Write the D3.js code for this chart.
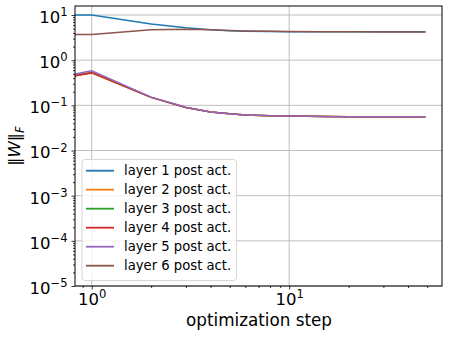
<html>
<head>
<script src="https://d3js.org/d3.v7.min.js"></script>
<style>
  body { margin: 0; background: white; }
  text { font-family: "DejaVu Sans", sans-serif; fill: black; }
</style>
</head>
<body>
<svg id="chart" width="449" height="337"></svg>
<script>
// data
var steps  = [0.8, 1, 2, 3, 4, 5, 6, 8, 10, 15, 20, 30, 49];
var layer1 = [10, 10, 6.3, 5.2, 4.75, 4.5, 4.4, 4.32, 4.28, 4.25, 4.25, 4.25, 4.25];
var layer2 = [0.44, 0.52, 0.15, 0.09, 0.071, 0.065, 0.061, 0.059, 0.058, 0.057, 0.056, 0.056, 0.056];
var layer3 = [0.45, 0.53, 0.15, 0.09, 0.071, 0.065, 0.061, 0.059, 0.058, 0.057, 0.056, 0.056, 0.056];
var layer4 = [0.44, 0.53, 0.15, 0.09, 0.071, 0.065, 0.061, 0.059, 0.058, 0.057, 0.056, 0.056, 0.056];
var layer5 = [0.48, 0.58, 0.152, 0.091, 0.071, 0.065, 0.061, 0.059, 0.058, 0.057, 0.056, 0.056, 0.056];
var layer6 = [3.7, 3.7, 4.7, 4.85, 4.7, 4.55, 4.45, 4.35, 4.3, 4.25, 4.24, 4.22, 4.22];
var names  = ["layer 1 post act.", "layer 2 post act.", "layer 3 post act.",
              "layer 4 post act.", "layer 5 post act.", "layer 6 post act."];
var colors = ["#1f77b4", "#ff7f0e", "#2ca02c", "#d62728", "#9467bd", "#8c564b"];
var xTicks = [1, 10];
var yTicks = [1e-5, 1e-4, 1e-3, 1e-2, 1e-1, 1, 10];

var series = [layer1, layer2, layer3, layer4, layer5, layer6];

var pL = 75, pR = 442, pT = 6, pB = 286;
var svg = d3.select("#chart");

var x = d3.scaleLog().domain([0.823, 59.4]).range([pL, pR]);
var y = d3.scaleLog().domain([1e-5, 15.85]).range([pB, pT]);

// minor ticks
var xMinor = [];
[0.1, 1, 10].forEach(function(b) {
    for (var k = 2; k <= 9; k++) {
        var v = b * k;
        if (v >= x.domain()[0] && v <= x.domain()[1]) xMinor.push(v);
    }
});
var yMinor = [];
[1e-5, 1e-4, 1e-3, 1e-2, 1e-1, 1, 10].forEach(function(b) {
    for (var k = 2; k <= 9; k++) {
        var v = b * k;
        if (v <= y.domain()[1]) yMinor.push(v);
    }
});

// grid
svg.append("g").selectAll("line").data(xTicks).enter().append("line")
    .attr("x1", function(d) { return x(d); }).attr("x2", function(d) { return x(d); })
    .attr("y1", pT).attr("y2", pB)
    .attr("stroke", "#b0b0b0").attr("stroke-width", 0.8);
svg.append("g").selectAll("line").data(yTicks).enter().append("line")
    .attr("y1", function(d) { return y(d); }).attr("y2", function(d) { return y(d); })
    .attr("x1", pL).attr("x2", pR)
    .attr("stroke", "#b0b0b0").attr("stroke-width", 0.8);

// lines
svg.append("clipPath").attr("id", "clip").append("rect")
    .attr("x", pL).attr("y", pT).attr("width", pR - pL).attr("height", pB - pT);

var line = d3.line()
    .x(function(d, i) { return x(steps[i]); })
    .y(function(d) { return y(d); });

svg.append("g").attr("clip-path", "url(#clip)")
    .selectAll("path").data(series).enter().append("path")
    .attr("d", line)
    .attr("fill", "none")
    .attr("stroke", function(d, i) { return colors[i]; })
    .attr("stroke-width", 1.5);

// axes
function powerLabel(sel, fs) {
    sel.selectAll(".tick text").each(function(d) {
        var t = d3.select(this);
        t.text("").style("font-size", fs + "px");
        t.append("tspan").text("10");
        t.append("tspan").attr("dy", -fs * 0.42).style("font-size", (fs * 0.7) + "px")
            .text(String(Math.round(Math.log10(d))).replace("-", "\u2212"));
    });
}

var gx = svg.append("g").attr("transform", "translate(0," + pB + ")")
    .call(d3.axisBottom(x).tickValues(xTicks).tickSize(3.5).tickPadding(4).tickFormat(function() { return ""; }));
gx.select(".domain").remove();
gx.selectAll(".tick text").attr("dy", "0.71em");
powerLabel(gx, 16.5);

svg.append("g").attr("transform", "translate(0," + pB + ")")
    .call(d3.axisBottom(x).tickValues(xMinor).tickSize(2).tickFormat(function() { return ""; }))
    .select(".domain").remove();

var gy = svg.append("g").attr("transform", "translate(" + pL + ",0)")
    .call(d3.axisLeft(y).tickValues(yTicks).tickSize(3.5).tickPadding(4).tickFormat(function() { return ""; }));
gy.select(".domain").remove();
gy.selectAll(".tick text").attr("dy", "0.45em");
powerLabel(gy, 16.5);

svg.append("g").attr("transform", "translate(" + pL + ",0)")
    .call(d3.axisLeft(y).tickValues(yMinor).tickSize(2).tickFormat(function() { return ""; }))
    .select(".domain").remove();

svg.selectAll(".tick line").attr("stroke", "black").attr("stroke-width", 0.8);

// frame
svg.append("rect")
    .attr("x", pL).attr("y", pT).attr("width", pR - pL).attr("height", pB - pT)
    .attr("fill", "none").attr("stroke", "black").attr("stroke-width", 1);

// axis labels
svg.append("text")
    .attr("x", (pL + pR) / 2 + 0.5).attr("y", 326)
    .attr("text-anchor", "middle").style("font-size", "16.8px")
    .text("optimization step");

var yl = svg.append("text")
    .attr("transform", "translate(20," + ((pT + pB) / 2) + ") rotate(-90)")
    .attr("text-anchor", "middle").style("font-size", "16.5px");
yl.append("tspan").text("\u2016");
yl.append("tspan").style("font-style", "italic").text("W");
yl.append("tspan").text("\u2016");
yl.append("tspan").attr("dy", 4).style("font-size", "11.5px").style("font-style", "italic").text("F");

// legend
var lg = svg.append("g");
lg.append("rect")
    .attr("x", 82).attr("y", 159.5).attr("width", 154.5).attr("height", 121)
    .attr("rx", 3).attr("fill", "white").attr("fill-opacity", 0.8)
    .attr("stroke", "#cccccc").attr("stroke-width", 0.8);
var rows = lg.selectAll("g.row").data(names).enter().append("g")
    .attr("transform", function(d, i) { return "translate(0," + (170.7 + i * 19) + ")"; });
rows.append("line")
    .attr("x1", 86).attr("x2", 114).attr("y1", 0).attr("y2", 0)
    .attr("stroke", function(d, i) { return colors[i]; }).attr("stroke-width", 1.8);
rows.append("text")
    .attr("x", 124).attr("y", 0).attr("dy", "0.35em")
    .style("font-size", "13.2px")
    .text(function(d) { return d; });
</script>
</body>
</html>
